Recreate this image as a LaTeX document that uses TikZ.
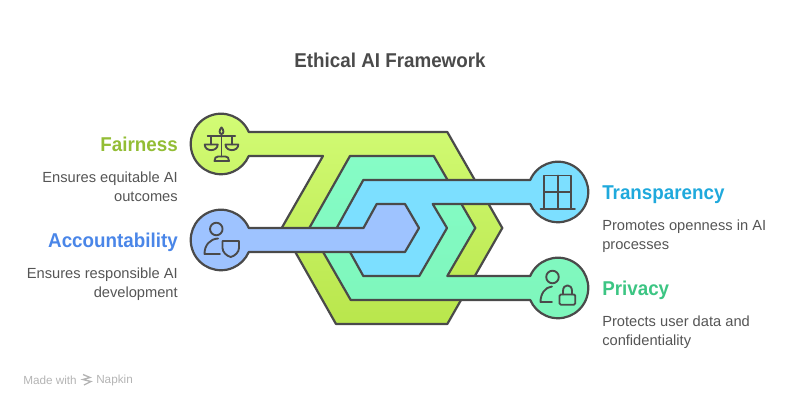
\documentclass[tikz,border=0pt]{standalone}
\usepackage{fontspec}
\usepackage{xcolor}
\usepackage{tikz}
\usetikzlibrary{positioning}
\setmainfont{Liberation Sans}
\newfontfamily\headfont[FakeStretch=0.94]{Liberation Sans}

\definecolor{inkgray}{HTML}{4A4A4A}
\definecolor{textgray}{HTML}{555555}
\definecolor{fairtop}{HTML}{D3FC76}
\definecolor{fairbot}{HTML}{B9E64C}
\definecolor{privtop}{HTML}{86FCC6}
\definecolor{privbot}{HTML}{7DF6BB}
\definecolor{transfill}{HTML}{7CDFFF}
\definecolor{accfill}{HTML}{9EC3FF}
\definecolor{fairhead}{HTML}{93BD35}
\definecolor{acchead}{HTML}{4A86E8}
\definecolor{transhead}{HTML}{1FA9DC}
\definecolor{privhead}{HTML}{3CC583}
\definecolor{markgray}{HTML}{B4B4B4}

\begin{document}
\begin{tikzpicture}[
            x=0.75pt, y=-0.75pt,
            band/.style={draw=inkgray, line width=1.65pt, line join=round},
            icon/.style={draw=inkgray, line width=1.4pt, line cap=round, line join=round},
            heading/.style={inner sep=0pt, text height=11pt, text depth=3pt, font=\fontsize{15}{18}\headfont\bfseries},
            blurb/.style={inner sep=0pt, text=textgray, font=\fontsize{11}{14.4}\selectfont},
            footer/.style={inner sep=0pt, anchor=west, text=markgray, font=\fontsize{8.8}{10}\selectfont}
        ]
        \useasboundingbox (0,0) rectangle (804,407);

        % Bands
        \path[band, top color=fairtop, bottom color=fairbot] (248.8,132) arc[start angle=23.3, end angle=336.7, radius=22.7pt]
            -- (323,155.95) -- (281.7,228) -- (336,324) -- (447.3,324) -- (502.3,228) -- (447.3,132) -- cycle;
        \path[band, top color=privtop, bottom color=privbot] (530.2,276) arc[start angle=156.7, end angle=-156.7, radius=22.7pt]
            -- (350.7,300) -- (309.3,228) -- (350,155.95) -- (433.7,155.95) -- (475.3,228) -- (447.3,276) -- cycle;
        \path[band, fill=transfill] (530.2,180) arc[start angle=156.7, end angle=-156.7, radius=22.7pt]
            -- (432.7,204) -- (447,228) -- (419.3,276) -- (363.3,276) -- (336.7,228) -- (363.3,180) -- cycle;
        \path[band, fill=accfill] (248.8,228) arc[start angle=23.3, end angle=336.7, radius=22.7pt]
            -- (405,252) -- (419,228) -- (405,204) -- (376.7,204) -- (363.5,228) -- cycle;

        % Scales
        \draw[icon] (221.5,134) -- (221.5,156.5);
        \draw[icon] (207.7,136.3) -- (235.2,136.3);
        \draw[icon] (221.5,127.3) .. controls (219,130) and (219,134) .. (221.5,134) .. controls (224,134) and (224,130) .. (221.5,127.3);
        \draw[icon] (211,136.3) -- (211,144.5);
        \draw[icon] (231.7,136.3) -- (231.7,144.5);
        \draw[icon] (204.7,144.5) -- (217.7,144.5) .. controls (217.7,152) and (204.7,152) .. cycle;
        \draw[icon] (225.5,144.5) -- (238.3,144.5) .. controls (238.3,152) and (225.5,152) .. cycle;
        \draw[icon] (214.5,161) .. controls (214.5,158) and (216,156.5) .. (218,156.5) -- (225.5,156.5) .. controls (227.5,156.5) and (229,158) .. (229,161) -- cycle;

        % Person with shield
        \draw[icon] (216.3,229) circle[radius=4.7pt];
        \draw[icon] (220,254) -- (204.5,254) .. controls (204.5,245) and (210,239) .. (218,238.5);
        \draw[icon] (222.5,241) -- (239,241) -- (239,248) .. controls (239,252) and (235,256) .. (230.7,257) .. controls (226.5,256) and (222.5,252) .. (222.5,248) -- cycle;

        % Window
        \draw[icon] (544,208.5) -- (544,175.5) -- (571,175.5) -- (571,208.5);
        \draw[icon] (557.7,175.5) -- (557.7,208.5);
        \draw[icon] (544,191.7) -- (571,191.7);
        \draw[icon] (540.5,208.7) -- (575,208.7);

        % Person with lock
        \draw[icon] (552.5,277) circle[radius=4.7pt];
        \draw[icon] (552,302) -- (540.5,302) .. controls (540.5,294) and (545,287) .. (552,286.5);
        \draw[icon, rounded corners=1pt] (559.5,294.5) rectangle (575.3,304.7);
        \draw[icon] (563,294.5) -- (563,291) .. controls (563,283.5) and (572,283.5) .. (572,291) -- (572,294.5);

        % Title
        \node[inner sep=0pt, text=inkgray, font=\fontsize{15}{18}\headfont\bfseries] (title) at (390,60) {Ethical AI Framework};

        % Labels
        \node[heading, text=fairhead, anchor=east] (fairness) at (178,146) {Fairness};
        \node[blurb, align=right, below=12pt of fairness.south east, anchor=north east] (fairnessnote) {Ensures equitable AI\\outcomes};
        \node[heading, text=acchead, anchor=east] (accountability) at (178,242) {Accountability};
        \node[blurb, align=right, below=12pt of accountability.south east, anchor=north east] (accountabilitynote) {Ensures responsible AI\\development};
        \node[heading, text=transhead, anchor=west] (transparency) at (602,194) {Transparency};
        \node[blurb, align=left, below=12pt of transparency.south west, anchor=north west] (transparencynote) {Promotes openness in AI\\processes};
        \node[heading, text=privhead, anchor=west] (privacy) at (602,290) {Privacy};
        \node[blurb, align=left, below=12pt of privacy.south west, anchor=north west] (privacynote) {Protects user data and\\confidentiality};

        % Footer
        \node[footer] (madewith) at (23,380) {Made with};
        \node[footer] (napkin) at (96,380) {Napkin};
        \draw[markgray, line width=1pt] (83,374.5) -- (90,377.5) -- (83,379.5) -- (91,381.5) -- (84,385);
    \end{tikzpicture}
\end{document}
